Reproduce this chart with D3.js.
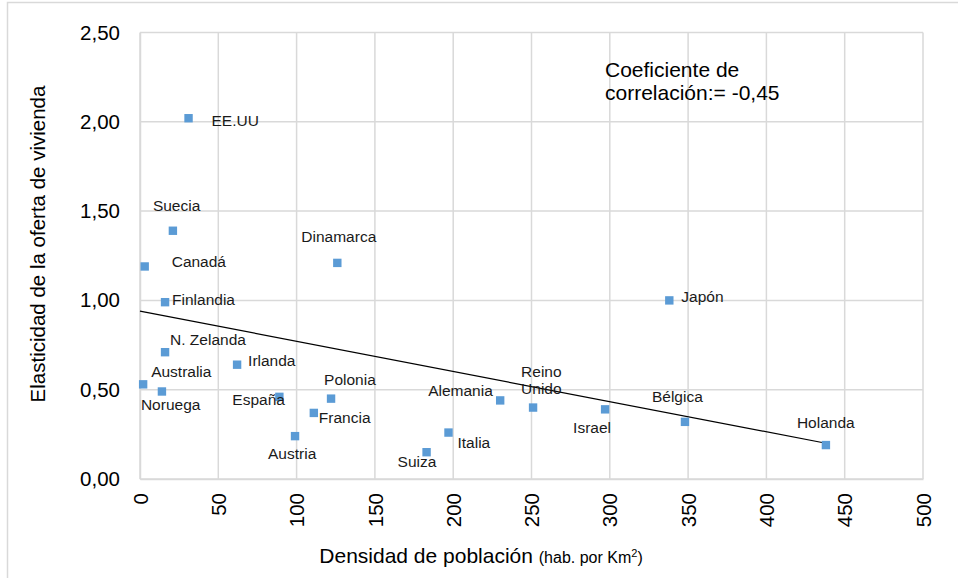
<!DOCTYPE html>
<html>
<head>
<meta charset="utf-8">
<script src="https://cdn.jsdelivr.net/npm/d3@7"></script>
<style>
  body { margin: 0; background: #fff; }
  svg { font-family: 'Liberation Sans', Arial, sans-serif; }
</style>
</head>
<body>
<svg id="chart" width="958" height="578"></svg>
<script>
// datos
let paises = ['EE.UU', 'Suecia', 'Canadá', 'Dinamarca', 'Finlandia', 'N. Zelanda', 'Irlanda', 'Australia',
  'Noruega', 'España', 'Polonia', 'Francia', 'Austria', 'Suiza', 'Italia', 'Alemania', 'Reino Unido',
  'Israel', 'Bélgica', 'Holanda', 'Japón']
let densidad = [31, 21, 3, 126, 16, 16, 62, 2, 14, 89, 122, 111, 99, 183, 197, 230, 251, 297, 348, 438, 338]
let elasticidad = [2.02, 1.39, 1.19, 1.21, 0.99, 0.71, 0.64, 0.53, 0.49, 0.46, 0.45, 0.37, 0.24, 0.15, 0.26,
  0.44, 0.40, 0.39, 0.32, 0.19, 1.00]
let xTicks = [0, 50, 100, 150, 200, 250, 300, 350, 400, 450, 500]
let yTicks = [0, 0.5, 1, 1.5, 2, 2.5]
// linea de tendencia tal como aparece
let tendenciaX = [0, 438]
let tendenciaY = [0.94, 0.20]

// desplazamiento de cada etiqueta respecto a su punto
let labelOffsets = {
  'EE.UU': [23, 8], 'Suecia': [-20, -20], 'Canadá': [27, 1], 'Dinamarca': [-36, -21],
  'Finlandia': [7, 3], 'N. Zelanda': [5, -7], 'Irlanda': [11, 1], 'Australia': [8, -7],
  'Noruega': [-21, 19], 'España': [-47, 8], 'Polonia': [-7, -14], 'Francia': [5, 10],
  'Austria': [-27, 23], 'Suiza': [-29, 15], 'Italia': [9, 15], 'Alemania': [-72, -4],
  'Reino Unido': [-12, -31], 'Israel': [-32, 24], 'Bélgica': [-33, -20], 'Holanda': [-29, -17],
  'Japón': [12, 2]
}

let data = paises.map(function (p, i) { return { pais: p, x: densidad[i], y: elasticidad[i] } })

let svg = d3.select('#chart')
let margin = { top: 32.5, left: 140, right: 35, bottom: 99 }
let width = 958
let height = 578

// marco exterior
svg.append('path')
  .attr('d', 'M7.5,' + height + 'V2.5H' + width)
  .attr('fill', 'none')
  .attr('stroke', '#d9d9d9')
  .attr('stroke-width', 1.5)

let x = d3.scaleLinear().domain([0, 500]).range([margin.left, width - margin.right])
let y = d3.scaleLinear().domain([0, 2.5]).range([height - margin.bottom, margin.top])

let fmt = function (d) { return d3.format('.2f')(d).replace('.', ',') }

// rejilla
svg.append('g').selectAll('line').data(xTicks).enter().append('line')
  .attr('x1', d => x(d)).attr('x2', d => x(d))
  .attr('y1', y(0)).attr('y2', y(2.5))
  .attr('stroke', '#d9d9d9').attr('stroke-width', 1.5)

svg.append('g').selectAll('line').data(yTicks).enter().append('line')
  .attr('x1', x(0)).attr('x2', x(500))
  .attr('y1', d => y(d)).attr('y2', d => y(d))
  .attr('stroke', '#d9d9d9').attr('stroke-width', 1.5)

// ejes
let yAxis = svg.append('g')
  .attr('transform', 'translate(' + x(0) + ',0)')
  .call(d3.axisLeft(y).tickValues(yTicks).tickFormat(fmt).tickSize(0).tickPadding(20))
yAxis.select('.domain').attr('stroke', '#d9d9d9').attr('stroke-width', 1.5)
yAxis.selectAll('text').attr('font-size', 20.5).attr('fill', '#000').attr('font-family', null)

let xAxis = svg.append('g')
  .attr('transform', 'translate(0,' + y(0) + ')')
  .call(d3.axisBottom(x).tickValues(xTicks).tickSize(0))
xAxis.select('.domain').attr('stroke', '#d9d9d9').attr('stroke-width', 1.5)
xAxis.selectAll('text')
  .attr('font-size', 20.5).attr('fill', '#000').attr('font-family', null)
  .attr('transform', 'rotate(-90)')
  .attr('text-anchor', 'end')
  .attr('x', -14)
  .attr('y', 0)
  .attr('dy', '0.35em')

// linea de tendencia
svg.append('line')
  .attr('x1', x(tendenciaX[0])).attr('y1', y(tendenciaY[0]))
  .attr('x2', x(tendenciaX[1])).attr('y2', y(tendenciaY[1]))
  .attr('stroke', '#000').attr('stroke-width', 1.2)

// puntos
svg.append('g').selectAll('rect').data(data).enter().append('rect')
  .attr('x', d => x(d.x) - 4.2)
  .attr('y', d => y(d.y) - 4.2)
  .attr('width', 8.4).attr('height', 8.4)
  .attr('fill', '#5b9bd5')

// etiquetas
let labels = svg.append('g').selectAll('text').data(data).enter().append('text')
  .attr('x', d => x(d.x) + labelOffsets[d.pais][0])
  .attr('y', d => y(d.y) + labelOffsets[d.pais][1])
  .attr('font-size', 15.5)
  .attr('fill', '#1a1a1a')

labels.each(function (d) {
  let t = d3.select(this)
  if (d.pais === 'Reino Unido') {
    t.append('tspan').text('Reino')
    t.append('tspan').attr('x', x(d.x) + labelOffsets[d.pais][0]).attr('dy', 17.5).text('Unido')
  } else {
    t.text(d.pais)
  }
})

// anotacion
let note = svg.append('text').attr('x', 605).attr('y', 77).attr('font-size', 21).attr('fill', '#000')
note.append('tspan').text('Coeficiente de')
note.append('tspan').attr('x', 605).attr('dy', 22.6).text('correlación:= -0,45')

// titulos de ejes
svg.append('text')
  .attr('transform', 'translate(45,' + 244 + ') rotate(-90)')
  .attr('text-anchor', 'middle')
  .attr('font-size', 20.5)
  .text('Elasticidad de la oferta de vivienda')

let xt = svg.append('text')
  .attr('x', 481).attr('y', 563)
  .attr('text-anchor', 'middle')
  .attr('font-size', 21)
xt.append('tspan').text('Densidad de población ')
xt.append('tspan').attr('font-size', 16).text('(hab. por Km')
xt.append('tspan').attr('font-size', 11).attr('dy', -6).text('2')
xt.append('tspan').attr('font-size', 16).attr('dy', 6).text(')')
</script>
</body>
</html>
